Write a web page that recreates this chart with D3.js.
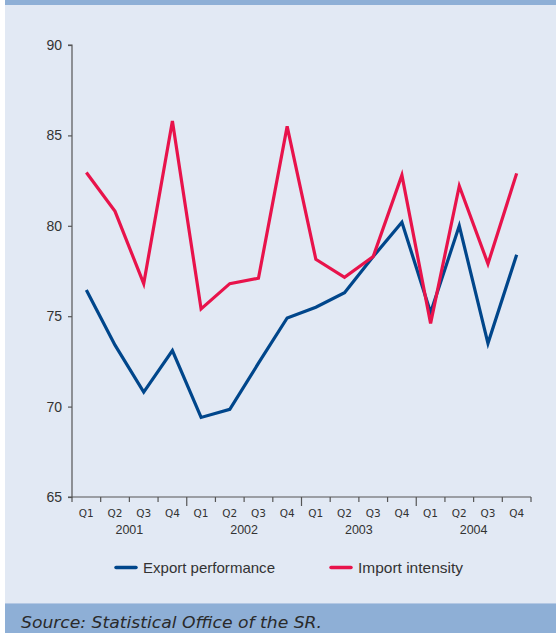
<!DOCTYPE html>
<html><head><meta charset="utf-8">
<script src="https://cdn.jsdelivr.net/npm/d3@7/dist/d3.min.js"></script>
<style>
html,body{margin:0;padding:0;background:#fff;}
svg{display:block;font-family:"Liberation Sans",Arial,sans-serif;}
</style></head>
<body>
<svg id="c" width="556" height="633"></svg>
<script>
const quarters = ["Q1","Q2","Q3","Q4"];
const years = ["2001","2002","2003","2004"];
const exportPerf = [76.45,73.4,70.8,73.1, 69.4,69.85,72.4,74.9, 75.5,76.3,78.3,80.2, 75.2,80.0,73.5,78.4];
const importInt  = [82.95,80.8,76.8,85.8, 75.4,76.8,77.1,85.5, 78.15,77.15,78.3,82.8, 74.6,82.2,77.9,82.9];
const yTicks = [65,70,75,80,85,90];
const seriesNames = ["Export performance","Import intensity"];
const colors = ["#00468b","#e8134b"];

(function(){
const svg = d3.select("#c");
svg.append("rect").attr("x",5).attr("y",0).attr("width",551).attr("height",633).attr("fill","#e2e9f4");
svg.append("rect").attr("x",5).attr("y",0).attr("width",551).attr("height",5).attr("fill","#8eafd6");
svg.append("rect").attr("x",5).attr("y",603).attr("width",551).attr("height",30).attr("fill","#8eafd6");
svg.append("line").attr("x1",5).attr("x2",556).attr("y1",603.5).attr("y2",603.5).attr("stroke","#b4c8e4").attr("stroke-width",1);

const pL=72, pR=531, pT=45, pB=497;
const n = exportPerf.length;
const x = d3.scaleLinear().domain([0,n]).range([pL,pR]);
const y = d3.scaleLinear().domain([65,90]).range([pB,pT]);
const axisColor = "#555";

const ya = svg.append("g").attr("transform",`translate(${pL},0)`)
  .call(d3.axisLeft(y).tickValues(yTicks).tickSize(4).tickPadding(6));
ya.select(".domain").attr("stroke",axisColor).attr("stroke-width",1.2).attr("d",`M-4,${pT}H0V${pB}H-4`);
ya.selectAll(".tick line").attr("stroke",axisColor).attr("stroke-width",1.2);
ya.selectAll(".tick text").attr("fill","#333").attr("font-size",14).attr("font-family","Liberation Sans, Arial, sans-serif");

const boundaries = d3.range(n+1);
svg.append("line").attr("x1",pL).attr("x2",pR).attr("y1",pB).attr("y2",pB)
  .attr("stroke",axisColor).attr("stroke-width",1.2);
svg.selectAll(".xt").data(boundaries).enter().append("line")
  .attr("x1",d=>x(d)).attr("x2",d=>x(d)).attr("y1",pB)
  .attr("y2",d=>(d%4===0 && d>0 && d<n)?pB+9:pB+5)
  .attr("stroke",axisColor).attr("stroke-width",1.2);
const qLabels = d3.range(n).map(i=>quarters[i%4]);
svg.selectAll(".ql").data(qLabels).enter().append("text")
  .attr("x",(d,i)=>x(i+0.5)).attr("y",516.5).attr("text-anchor","middle")
  .attr("font-size",10.5).attr("fill","#333").attr("font-family","DejaVu Sans, sans-serif").text(d=>d);
svg.selectAll(".yl").data(years).enter().append("text")
  .attr("x",(d,i)=>x(i*4+2)).attr("y",534.3).attr("text-anchor","middle")
  .attr("font-size",12.5).attr("fill","#333").text(d=>d);

const line = d3.line().x((d,i)=>x(i+0.5)).y(d=>y(d));
[exportPerf, importInt].forEach((s,k)=>{
  svg.append("path").attr("d",line(s)).attr("fill","none")
    .attr("stroke",colors[k]).attr("stroke-width",3.2).attr("stroke-linejoin","miter");
});

const legX = [116,331];
const legW = [132,105];
seriesNames.forEach((nm,k)=>{
  svg.append("line").attr("x1",legX[k]).attr("x2",legX[k]+20).attr("y1",567.5).attr("y2",567.5)
    .attr("stroke",colors[k]).attr("stroke-width",3.5).attr("stroke-linecap","round");
  svg.append("text").attr("x",legX[k]+27).attr("y",573).attr("font-size",15).attr("fill","#333")
    .attr("textLength",legW[k]).attr("lengthAdjust","spacingAndGlyphs").text(nm);
});

svg.append("text").attr("x",21).attr("y",627.5).attr("font-size",16).attr("font-style","italic")
  .attr("font-family","DejaVu Sans, sans-serif")
  .attr("textLength",301).attr("lengthAdjust","spacingAndGlyphs")
  .attr("fill","#2a2a2a").text("Source: Statistical Office of the SR.");
})();
</script>
</body></html>
